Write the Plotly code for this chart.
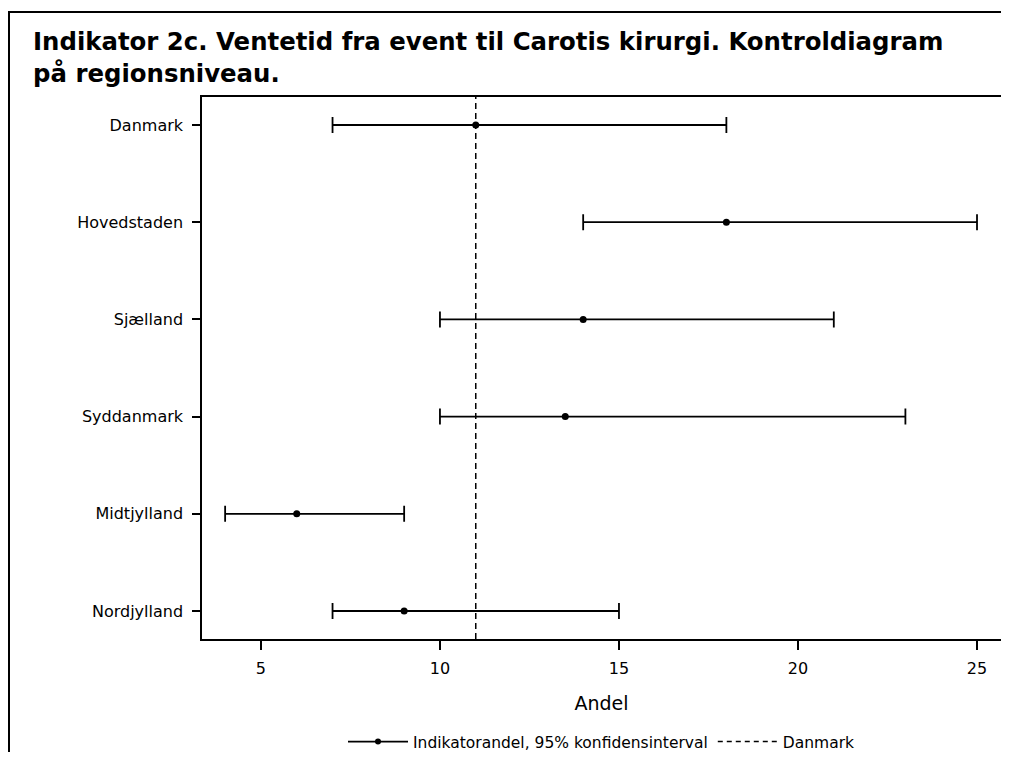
import plotly.graph_objects as go

# Data
regions = ["Nordjylland", "Midtjylland", "Syddanmark", "Sjælland", "Hovedstaden", "Danmark"]
andel = [9, 6, 13.5, 14, 18, 11]
lower = [7, 4, 10, 10, 14, 7]
upper = [15, 9, 23, 21, 25, 18]
danmark_value = 11

# page body has an 8px margin on every side, so keep the figure inside the window
W, H = 993, 744
ml, mr, mt, mb = 194, 0, 89, 113
pw, ph = W - ml - mr, H - mt - mb

fig = go.Figure()

# Interval + point
fig.add_trace(go.Scatter(
    x=andel, y=regions, mode="markers",
    marker=dict(color="black", size=7),
    error_x=dict(type="data", symmetric=False,
                 array=[u - a for u, a in zip(upper, andel)],
                 arrayminus=[a - l for a, l in zip(andel, lower)],
                 color="black", thickness=1.8, width=8),
    showlegend=False, hoverinfo="x+y",
))

# Legend entries
fig.add_trace(go.Scatter(
    x=[None], y=[None], mode="lines+markers",
    line=dict(color="black", width=1.8), marker=dict(color="black", size=6),
    name="Indikatorandel, 95% konfidensinterval",
))
fig.add_trace(go.Scatter(
    x=[None], y=[None], mode="lines",
    line=dict(color="black", width=1.5, dash="5px,4px"),
    name="Danmark",
))

# Danmark reference line
fig.add_shape(type="line", xref="x", yref="paper",
              x0=danmark_value, x1=danmark_value, y0=0, y1=1,
              line=dict(color="black", width=1.5, dash="6px,4px"))

# Outer frame around the whole graphic (right/bottom edges fall off the page)
fig.add_shape(type="rect", xref="paper", yref="paper",
              x0=(1 - ml) / pw, x1=(W + 20 - ml) / pw,
              y0=(H - mb - (H + 20)) / ph, y1=(H - mb - 4) / ph,
              line=dict(color="black", width=2), layer="above")

fig.update_layout(
    width=W, height=H,
    margin=dict(l=ml, r=mr, t=mt, b=mb, autoexpand=False),
    paper_bgcolor="white", plot_bgcolor="white",
    font=dict(family="DejaVu Sans", color="black", size=15),
    title=dict(
        text="<b>Indikator 2c. Ventetid fra event til Carotis kirurgi. Kontroldiagram<br>på regionsniveau.</b>",
        x=25 / W, xanchor="left", y=1 - 42 / H, yanchor="top",
        font=dict(size=24.4, family="DejaVu Sans"),
    ),
    xaxis=dict(
        range=[3.354, 25.67], tickvals=[5, 10, 15, 20, 25],
        ticks="outside", ticklen=9, tickwidth=1.5, tickcolor="black",
        showline=True, linecolor="black", linewidth=1.5, mirror=True,
        showgrid=False, zeroline=False, automargin=False,
        tickfont=dict(size=16), ticklabelstandoff=5,
        title=dict(text="Andel", font=dict(size=19), standoff=20),
    ),
    yaxis=dict(
        range=[-0.288, 5.288],
        ticks="outside", ticklen=8, tickwidth=1.5, tickcolor="black",
        showline=True, linecolor="black", linewidth=1.5, mirror=True,
        showgrid=False, zeroline=False, automargin=False,
        tickfont=dict(size=16), ticklabelstandoff=6,
    ),
    legend=dict(
        orientation="h", x=0.5, xanchor="center", y=(ph - (734 - mt)) / ph, yanchor="middle",
        font=dict(size=15.5), itemwidth=60,
    ),
)

fig.write_html("out.html")
